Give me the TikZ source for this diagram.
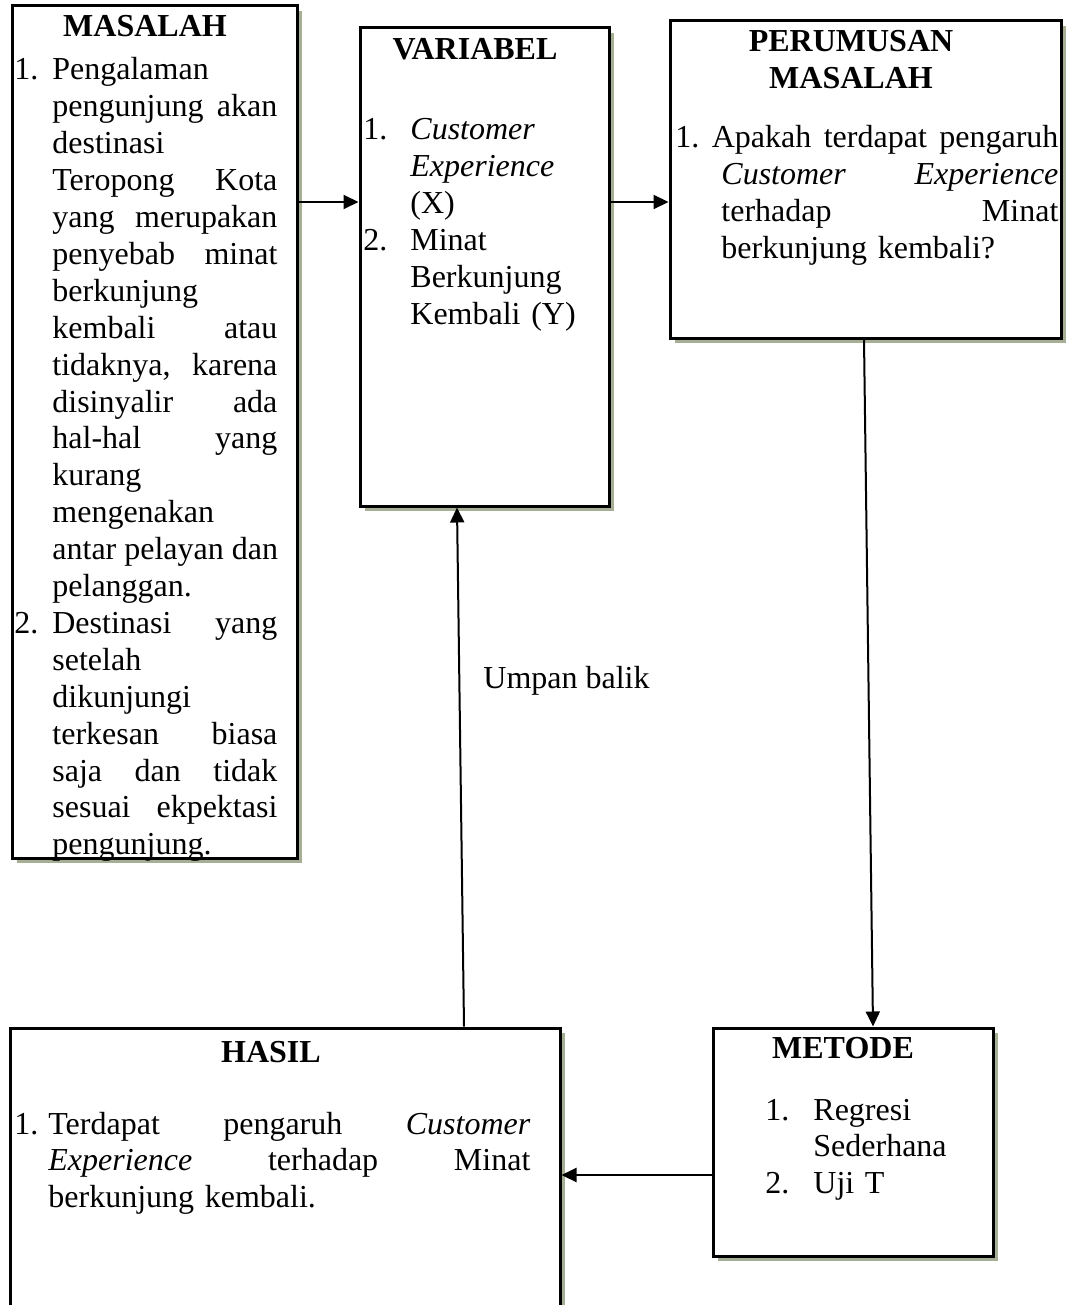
\documentclass[tikz,border=0pt]{standalone}
\usepackage{fontspec}
\setmainfont{Liberation Serif}
\usetikzlibrary{arrows.meta,shadows}
\definecolor{shadowgrn}{RGB}{166,174,148}
\newlength{\numwd}
\newcommand{\lrow}[2]{\makebox[\numwd][l]{#1}#2}
\newcommand{\jfull}[2]{{\spaceskip=.25em plus 1fil\xspaceskip=\spaceskip\makebox[#1][s]{#2}}}
\newcommand{\jrow}[2]{\makebox[\numwd][l]{#1}\jfull{\dimexpr\hsize-\numwd\relax}{#2}}

\begin{document}
\begin{tikzpicture}
        [
            x=0.5pt, y=-0.5pt,
            box/.style={draw, fill=white, line width=1.5pt, inner sep=0pt,
                drop shadow={shadow xshift=2.5pt, shadow yshift=-2.5pt, fill=shadowgrn, opacity=1}},
            head/.style={font=\fontsize{16}{18.45}\selectfont\bfseries, anchor=base, inner sep=0pt},
            itemtext/.style={font=\fontsize{16}{18.45}\selectfont, anchor=base west, inner sep=0pt, align=left,
                execute at begin node={\setlength{\numwd}{#1}}},
            arr/.style={-{Triangle[length=7.5pt, width=7pt]}, line width=1pt}
        ]

        \useasboundingbox (0,0) rectangle (1068,1305);
        \clip (0,0) rectangle (1068,1305);

        \node[box, minimum width=142.5pt, minimum height=426pt] (masalah) at (154.5,432) {};
        \node[box, minimum width=124.5pt, minimum height=239pt] (variabel) at (484.5,267) {};
        \node[box, minimum width=195.5pt, minimum height=158.5pt] (perumusan) at (865.5,179.5) {};
        \node[box, minimum width=275pt, minimum height=151pt] (hasil) at (285,1179) {};
        \node[box, minimum width=140pt, minimum height=114pt] (metode) at (853,1142) {};

        \node[head] (masalahhd) at (145,37) {MASALAH};
        \node[head] (variabelhd) at (475,60) {VARIABEL};
        \node[head, text width=110pt, align=center] (perumusanhd) at (851,52) {PERUMUSAN\\MASALAH};
        \node[head] (hasilhd) at (271,1062) {HASIL};
        \node[head] (metodehd) at (843,1058) {METODE};

        \node[itemtext=19pt, text width=131.5pt] (masalahtx) at (14,80) {%
            \lrow{1.}{Pengalaman}\\
            \jrow{}{pengunjung akan}\\
            \lrow{}{destinasi}\\
            \jrow{}{Teropong Kota}\\
            \jrow{}{yang merupakan}\\
            \jrow{}{penyebab minat}\\
            \lrow{}{berkunjung}\\
            \jrow{}{kembali atau}\\
            \jrow{}{tidaknya, karena}\\
            \jrow{}{disinyalir ada}\\
            \jrow{}{hal-hal yang}\\
            \lrow{}{kurang}\\
            \lrow{}{mengenakan}\\
            \jrow{}{antar pelayan dan}\\
            \lrow{}{pelanggan.}\\
            \jrow{2.}{Destinasi yang}\\
            \lrow{}{setelah}\\
            \lrow{}{dikunjungi}\\
            \jrow{}{terkesan biasa}\\
            \jrow{}{saja dan tidak}\\
            \jrow{}{sesuai ekpektasi}\\
            \lrow{}{pengunjung.}};

        \node[itemtext=23.5pt, text width=120pt] (variabeltx) at (363,140) {%
            \lrow{1.}{\textit{Customer}}\\
            \lrow{}{\textit{Experience}}\\
            \lrow{}{(X)}\\
            \lrow{2.}{Minat}\\
            \lrow{}{Berkunjung}\\
            \lrow{}{Kembali (Y)}};

        \node[itemtext=23pt, text width=191.5pt] (perumusantx) at (675,148) {%
            \jfull{\hsize}{1. Apakah terdapat pengaruh}\\
            \jrow{}{\textit{Customer} \textit{Experience}}\\
            \jrow{}{terhadap Minat}\\
            \lrow{}{berkunjung kembali?}};

        \node[itemtext=17pt, text width=258pt] (hasiltx) at (14,1134) {%
            \jrow{1.}{Terdapat pengaruh \textit{Customer}}\\
            \jrow{}{\textit{Experience} terhadap Minat}\\
            \lrow{}{berkunjung kembali.}};

        \node[itemtext=24pt, text width=130pt] (metodetx) at (765,1120) {%
            \lrow{1.}{Regresi}\\
            \lrow{}{Sederhana}\\
            \lrow{2.}{Uji T}};

        \node[font=\fontsize{16}{18.45}\selectfont, anchor=base west, inner sep=0pt] (umpan) at (483,688) {Umpan balik};

        \coordinate (toprow) at (0,202);
        \draw[arr] (masalah.east |- toprow) -- (variabel.west |- toprow);
        \draw[arr] (variabel.east |- toprow) -- (perumusan.west |- toprow);
        \draw[arr] ([xshift=-0.75pt]perumusan.south) -- ([xshift=10pt]metode.north);
        \draw[arr] ([yshift=-16.5pt]metode.west) -- ([yshift=-16.5pt]metode.west -| hasil.east);
        \draw[arr] ([xshift=89.5pt]hasil.north) -- ([xshift=-13.75pt]variabel.south);
    \end{tikzpicture}
\end{document}
